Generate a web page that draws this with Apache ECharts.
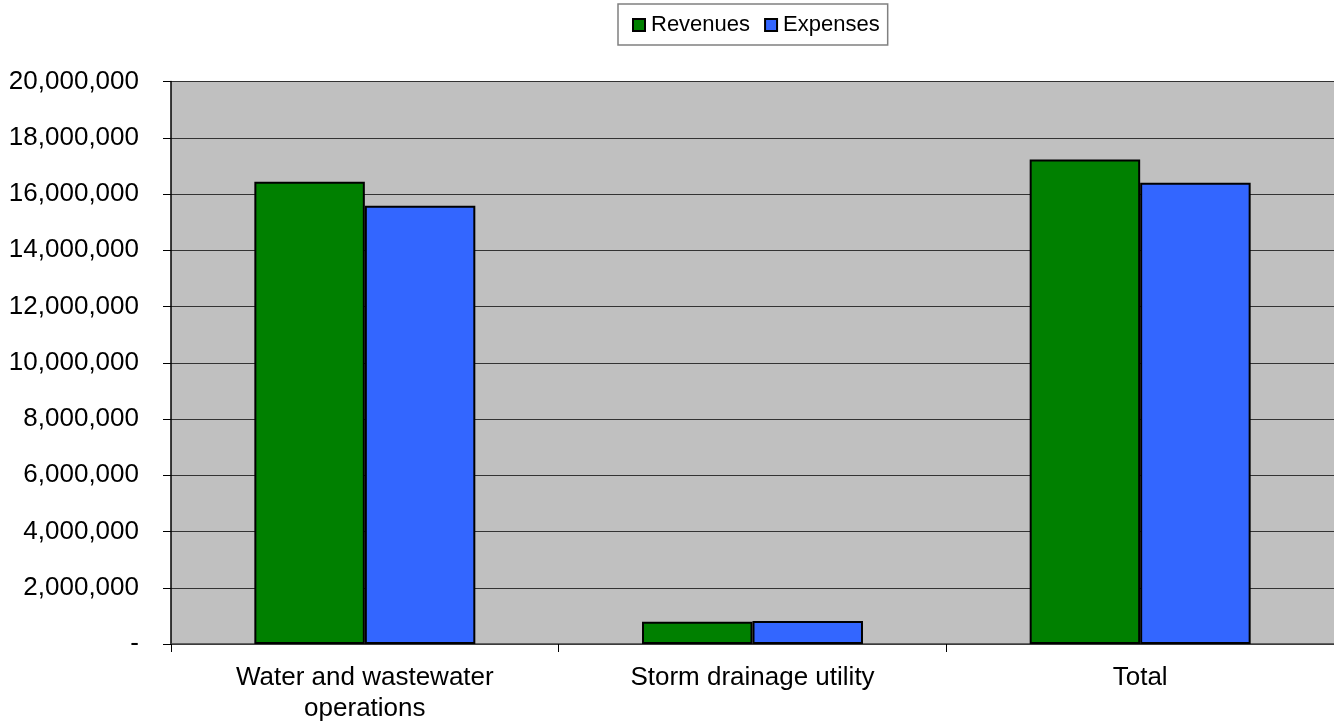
<!DOCTYPE html>
<html>
<head>
<meta charset="utf-8">
<script src="https://cdn.jsdelivr.net/npm/echarts@6/dist/echarts.min.js"></script>
<style>
html,body{margin:0;padding:0;background:#fff;}
#chart{width:1334px;height:721px;}
</style>
</head>
<body>
<div id="chart"></div>
<script>
const categories = ['Water and wastewater\noperations', 'Storm drainage utility', 'Total'];
const revenues = [16440000, 790000, 17230000];
const expenses = [15580000, 820000, 16400000];
const seriesNames = ['Revenues', 'Expenses'];

const chart = echarts.init(document.getElementById('chart'));
const FONT = 'Liberation Sans, Arial, sans-serif';
chart.setOption({
  animation: false,
  textStyle: { fontFamily: FONT },
  legend: {
    data: seriesNames,
    left: 618, top: 4,
    icon: 'rect',
    itemWidth: 12, itemHeight: 12,
    itemGap: 14,
    padding: [10, 8, 9, 14],
    backgroundColor: '#ffffff',
    borderColor: '#808080', borderWidth: 1.5,
    textStyle: { fontSize: 22, color: '#000', fontFamily: FONT, padding: [0, 0, 0, 1] }
  },
  grid: { left: 171, right: 0, top: 81.5, bottom: 77, containLabel: false,
          outerBoundsMode: 'none',
          show: true, backgroundColor: '#c0c0c0', borderWidth: 0 },
  xAxis: {
    type: 'category',
    data: categories,
    axisLine: { show: true, lineStyle: { color: '#404040', width: 1.5 } },
    axisTick: { show: true, alignWithLabel: false, length: 8, lineStyle: { color: '#000' } },
    axisLabel: { fontSize: 26, color: '#000', margin: 18, lineHeight: 31, fontFamily: FONT }
  },
  yAxis: {
    type: 'value',
    min: 0, max: 20000000, interval: 2000000,
    axisLine: { show: true, lineStyle: { color: '#000', width: 1.5 } },
    axisTick: { show: true, length: 8, lineStyle: { color: '#000' } },
    splitLine: { show: true, lineStyle: { color: '#333', width: 1.2 } },
    axisLabel: {
      fontSize: 26, color: '#000', margin: 32, fontFamily: FONT,
      formatter: v => v === 0 ? '-' : v.toLocaleString('en-US')
    }
  },
  series: [
    { name: seriesNames[0], type: 'bar', data: revenues, barGap: '0%', barCategoryGap: '43%',
      itemStyle: { color: '#008000', borderColor: '#000', borderWidth: 2 } },
    { name: seriesNames[1], type: 'bar', data: expenses, barGap: '0%', barCategoryGap: '43%',
      itemStyle: { color: '#3366ff', borderColor: '#000', borderWidth: 2 } }
  ]
});
</script>
</body>
</html>
